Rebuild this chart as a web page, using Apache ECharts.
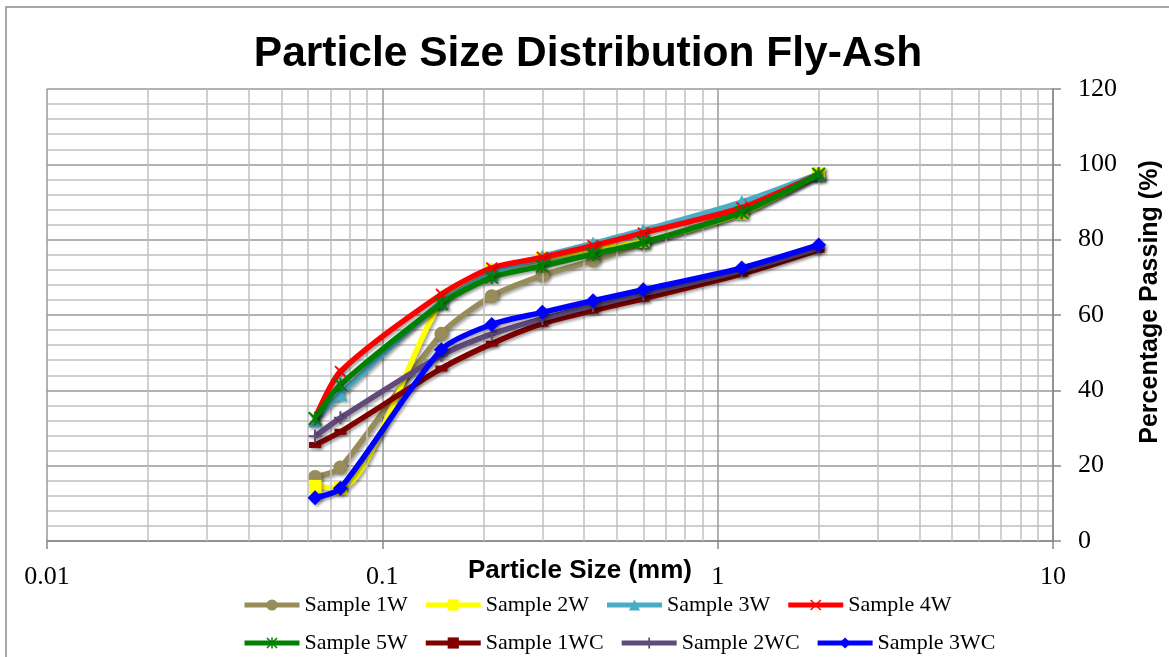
<!DOCTYPE html>
<html>
<head>
<meta charset="utf-8">
<script src="https://cdn.jsdelivr.net/npm/echarts@6/dist/echarts.min.js"></script>
<style>html,body{margin:0;padding:0;background:#fff;}#c{width:1169px;height:657px;}</style>
</head>
<body>
<div id="c"></div>
<script>
// ---- data ----
var sizes = [0.063, 0.075, 0.15, 0.212, 0.3, 0.425, 0.6, 1.18, 2.0];
var s1W  = [17, 19.5, 55, 65, 70.5, 74.5, 79, 87.5, 97];
var s2W  = [14.5, 14, 63.5, 72, 75, 77.5, 79.5, 87, 97.5];
var s3W  = [32, 39, 63.5, 71, 75.5, 79, 82.5, 90, 97.5];
var s4W  = [32.5, 45, 65.5, 72.5, 75.3, 78.4, 81.8, 88.5, 97.4];
var s5W  = [32.5, 41.5, 63, 70, 73, 76.2, 79.3, 87.2, 97.4];
var s1WC = [25.5, 29, 45.8, 52.4, 57.7, 61.2, 64.3, 70.9, 77.3];
var s2WC = [27.8, 32.7, 49.3, 55, 59, 62.5, 65.6, 71.8, 77.8];
var s3WC = [11.5, 14, 50.8, 57.5, 60.7, 63.8, 66.7, 72.5, 78.6];
var seriesNames = ['Sample 1W','Sample 2W','Sample 3W','Sample 4W','Sample 5W','Sample 1WC','Sample 2WC','Sample 3WC'];
var xMinorGrid = [0.02,0.03,0.04,0.05,0.06,0.07,0.08,0.09,0.2,0.3,0.4,0.5,0.6,0.7,0.8,0.9,2,3,4,5,6,7,8,9];
var titleText = 'Particle Size Distribution Fly-Ash';
var xName = 'Particle Size (mm)';
var yName = 'Percentage Passing (%)';

var allData = [s1W, s2W, s3W, s4W, s5W, s1WC, s2WC, s3WC];
var colors = ['#988c5a', '#ffff00', '#4bacc6', '#ff0000', '#008000', '#800000', '#604a7b', '#0000ff'];
var X_PATH = 'path://M0,1 L1,0 L5,4 L9,0 L10,1 L6,5 L10,9 L9,10 L5,6 L1,10 L0,9 L4,5 Z';
var STAR_PATH = 'path://M1,0 L10,9 L9,10 L0,1 Z M4.3,0 L5.7,0 L5.7,10 L4.3,10 Z M9,0 L10,1 L1,10 L0,9 Z';
var PLUS_PATH = 'path://M4.2,0 L5.8,0 L5.8,4.2 L10,4.2 L10,5.8 L5.8,5.8 L5.8,10 L4.2,10 L4.2,5.8 L0,5.8 L0,4.2 L4.2,4.2 Z';
var symbols = ['circle', 'rect', 'triangle', X_PATH, STAR_PATH, 'rect', PLUS_PATH, 'diamond'];
var symSizes = [14, 13, 14, 12, 14, [12,6], 13, 15];

var series = [{
  type: 'line', name: '_grid', data: [], z: 1, silent: true,
  markLine: {
    silent: true, symbol: ['none','none'], label: {show: false},
    lineStyle: {color: '#c0c0c0', width: 1.5, type: 'solid'},
    emphasis: {disabled: true},
    animation: false,
    data: xMinorGrid.map(function (v) { return {xAxis: v}; })
  }
}];
allData.forEach(function (arr, i) {
  series.push({
    type: 'line', name: seriesNames[i], z: 3 + i,
    data: sizes.map(function (s, j) { return [s, arr[j]]; }),
    smooth: 0.25,
    symbol: symbols[i], symbolSize: symSizes[i], showSymbol: true,
    lineStyle: {color: colors[i], width: 5.5, shadowColor: 'rgba(0,0,0,0.35)', shadowBlur: 3, shadowOffsetX: 2, shadowOffsetY: 2},
    itemStyle: {color: colors[i], borderWidth: 0, shadowColor: 'rgba(0,0,0,0.35)', shadowBlur: 3, shadowOffsetX: 2, shadowOffsetY: 2},
    emphasis: {disabled: true},
    animation: false
  });
});

var legendText = {fontFamily: 'Liberation Serif', fontSize: 22, color: '#000', width: 112};
var legendBase = {left: 242, padding: 0, itemWidth: 55, itemHeight: 14, itemGap: 15.5,
  textStyle: legendText, selectedMode: false, lineStyle: {width: 5}, itemStyle: {shadowBlur: 0}};
var chart = echarts.init(document.getElementById('c'), null, {renderer: 'canvas'});
chart.setOption({
  backgroundColor: '#fff',
  animation: false,
  grid: {left: 47, right: 116, top: 89, bottom: 116, containLabel: false},
  xAxis: {
    type: 'log', logBase: 10, min: 0.01, max: 10,
    axisLine: {show: true, lineStyle: {color: '#888', width: 1.5}},
    axisTick: {show: true, inside: false, length: 8, lineStyle: {color: '#888', width: 1.5}},
    axisLabel: {fontFamily: 'Liberation Serif', fontSize: 26, color: '#000', margin: 23,
      formatter: function (v) { return String(+(+v).toPrecision(6)); }},
    splitLine: {show: true, lineStyle: {color: '#999', width: 1.5}},
    minorTick: {show: false}, minorSplitLine: {show: false}
  },
  yAxis: {
    type: 'value', position: 'right', min: 0, max: 120, interval: 20,
    axisLine: {show: true, lineStyle: {color: '#888', width: 1.5}},
    axisTick: {show: true, inside: false, length: 8, lineStyle: {color: '#888', width: 1.5}},
    axisLabel: {fontFamily: 'Liberation Serif', fontSize: 26, color: '#000', margin: 25},
    splitLine: {show: true, lineStyle: {color: '#999', width: 1.5}},
    minorTick: {show: false, splitNumber: 5},
    minorSplitLine: {show: true, lineStyle: {color: '#c0c0c0', width: 1.5}}
  },
  legend: [
    Object.assign({}, legendBase, {data: seriesNames.slice(0,4), top: 594}),
    Object.assign({}, legendBase, {data: seriesNames.slice(4), top: 632})
  ],
  graphic: [
    {type: 'rect', z: -10, shape: {x: 6, y: 7, width: 1400, height: 900},
     style: {fill: 'none', stroke: '#8c8c8c', lineWidth: 1.5}},
    {type: 'text', x: 588, y: 54, style: {text: titleText, font: 'bold 42.5px "Liberation Sans", Arial, sans-serif',
      fill: '#000', textAlign: 'center', textVerticalAlign: 'middle'}},
    {type: 'text', x: 580, y: 571, style: {text: xName, font: 'bold 26px "Liberation Sans", Arial, sans-serif',
      fill: '#000', textAlign: 'center', textVerticalAlign: 'middle'}},
    {type: 'text', x: 1150, y: 302, rotation: Math.PI / 2, style: {text: yName, font: 'bold 25px "Liberation Sans", Arial, sans-serif',
      fill: '#000', textAlign: 'center', textVerticalAlign: 'middle'}}
  ],
  series: series
});
</script>
</body>
</html>
